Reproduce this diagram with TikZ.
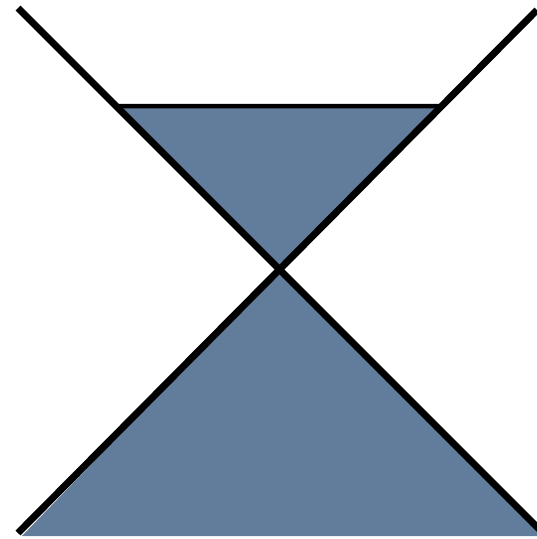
\documentclass[tikz,border=0pt]{standalone}
\usetikzlibrary{calc,intersections}
\definecolor{slate}{RGB}{98,124,155}
\tikzset{diag/.style={line width=7pt,black},rim/.style={line width=4.5pt,black}}
\begin{document}
\begin{tikzpicture}[x=1pt,y=-1pt]
\useasboundingbox (0,0) rectangle (537,539);
\coordinate (A1) at (18,8);
\coordinate (A2) at (540,530);
\coordinate (B1) at (537,10);
\coordinate (B2) at (18,533);
\coordinate (BL) at (22,536);
\coordinate (BR) at (537,536);
\coordinate (BE) at (537,527);
\path[name path=la] (A1) -- (A2);
\path[name path=lb] (B1) -- (B2);
\path[name path=top] (0,106) -- (537,106);
\path[name intersections={of=la and lb,by=X}];
\path[name intersections={of=la and top,by=TL}];
\path[name intersections={of=lb and top,by=TR}];
\fill[slate] (TL) -- (TR) -- (X) -- cycle;
\fill[slate] (X) -- (BL) -- (BR) -- (BE) -- cycle;
\draw[rim] (TL) -- (TR);
\begin{scope}
\clip (0,0) rectangle (537,539);
\draw[diag] (A1) -- (A2);
\draw[diag] (B1) -- (B2);
\end{scope}
\end{tikzpicture}
\end{document}
